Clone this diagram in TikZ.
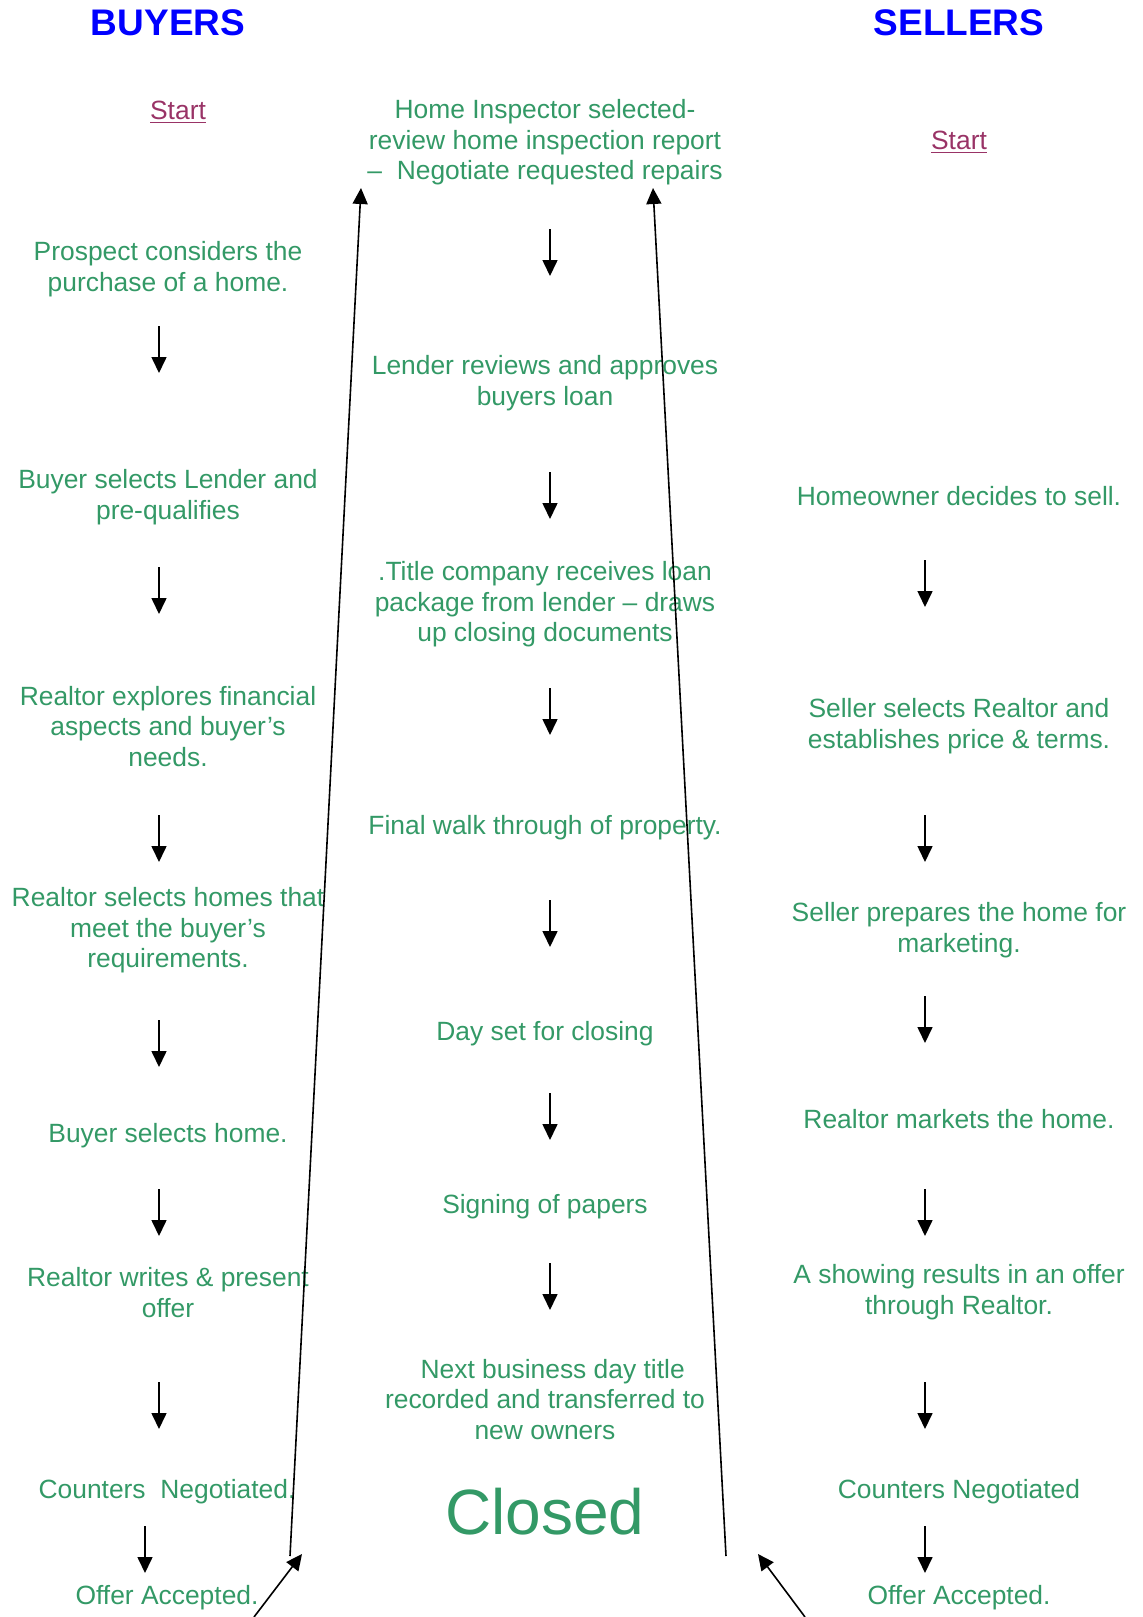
\documentclass[tikz,border=0pt]{standalone}
\usepackage{fontspec}
\setmainfont{Liberation Sans}
\usepackage{xcolor}
\usetikzlibrary{arrows.meta}
\definecolor{seagreen}{HTML}{339966}
\definecolor{plum}{HTML}{993366}
\tikzset{
  stage/.style={text=seagreen, align=center, inner sep=0pt, yshift=-1.2pt,
    font=\fontsize{13.2}{15.3}\selectfont},
  side/.style={text=blue, inner sep=0pt, font=\fontsize{18.5}{20}\selectfont\bfseries},
  startlink/.style={text=plum, inner sep=0pt, yshift=-1.2pt, font=\fontsize{13.2}{15.3}\selectfont},
  arr/.style={-{Triangle[length=8pt,width=7.5pt]}, line width=0.8pt},
}
\begin{document}
\begin{tikzpicture}[x=0.5pt, y=-0.5pt]
  \useasboundingbox (0,0) rectangle (1143,1617);
  % headers
  \node[side] (buyers) at (168,23) {BUYERS};
  \node[side] (sellers) at (959,23) {SELLERS};
  \node[startlink] (startL) at (178,110) {\underline{Start}};
  \node[startlink] (startR) at (959,140) {\underline{Start}};
  % buyers column
  \node[stage] (p1) at (168,267) {Prospect considers the\\purchase of a home.};
  \node[stage] (p2) at (168,495) {Buyer selects Lender and\\pre-qualifies};
  \node[stage] (p3) at (168,724) {Realtor explores financial\\aspects and buyer’s\\needs.};
  \node[stage] (p4) at (168,928) {Realtor selects homes that\\meet the buyer’s\\requirements.};
  \node[stage] (p5) at (168,1133) {Buyer selects home.};
  \node[stage] (p6) at (168,1290) {Realtor writes \& present\\offer};
  \node[stage] (p7) at (167,1489) {Counters\ \ Negotiated.};
  \node[stage] (p8) at (167,1595) {Offer Accepted.};
  % closing column
  \node[stage] (c1) at (545,140) {Home Inspector selected-\\review home inspection report\\–\ \ Negotiate requested repairs};
  \node[stage] (c2) at (545,381) {Lender reviews and approves\\buyers loan};
  \node[stage] (c3) at (545,602) {.Title company receives loan\\package from lender – draws\\up closing documents};
  \node[stage] (c4) at (545,825) {Final walk through of property.};
  \node[stage] (c5) at (545,1031) {Day set for closing};
  \node[stage] (c6) at (545,1204) {Signing of papers};
  \node[stage] (c7) at (545,1397) {\hspace*{7.7pt}Next business day title\\recorded and transferred to\\new owners};
  \node[stage, font=\fontsize{32}{36}\selectfont] (closed) at (545,1509) {Closed};
  % sellers column
  \node[stage] (s1) at (959,494) {Homeowner decides to sell.};
  \node[stage] (s2) at (959,724) {Seller selects Realtor and\\establishes price \& terms.};
  \node[stage] (s3) at (959,928) {Seller prepares the home for\\marketing.};
  \node[stage] (s4) at (959,1117) {Realtor markets the home.};
  \node[stage] (s5) at (959,1290) {A showing results in an offer\\through Realtor.};
  \node[stage] (s6) at (959,1489) {Counters Negotiated};
  \node[stage] (s7) at (959,1595) {Offer Accepted.};
  % short down arrows
  \foreach \x/\y [count=\i] in {159/326, 159/567, 159/815, 159/1020, 159/1189, 159/1382, 145/1526,
      550/229, 550/472, 550/688, 550/900, 550/1093, 550/1263,
      925/560, 925/815, 925/996, 925/1189, 925/1382, 925/1526} {
    \coordinate (dn\i) at (\x,\y);
    \draw[arr] (dn\i) -- ++(0,47);
  }
  % long arrows up to the inspection
  \coordinate (lbot) at (290,1556);
  \coordinate (ltop) at (361,188);
  \coordinate (rbot) at (726,1556);
  \coordinate (rtop) at (653,188);
  \coordinate (lin) at (254,1617);
  \coordinate (rin) at (805,1617);
  \draw[arr] (lbot) -- (ltop);
  \draw[arr] (rbot) -- (rtop);
  \draw[arr] (lin) -- (302,1554);
  \draw[arr] (rin) -- (758,1554);
\end{tikzpicture}
\end{document}
